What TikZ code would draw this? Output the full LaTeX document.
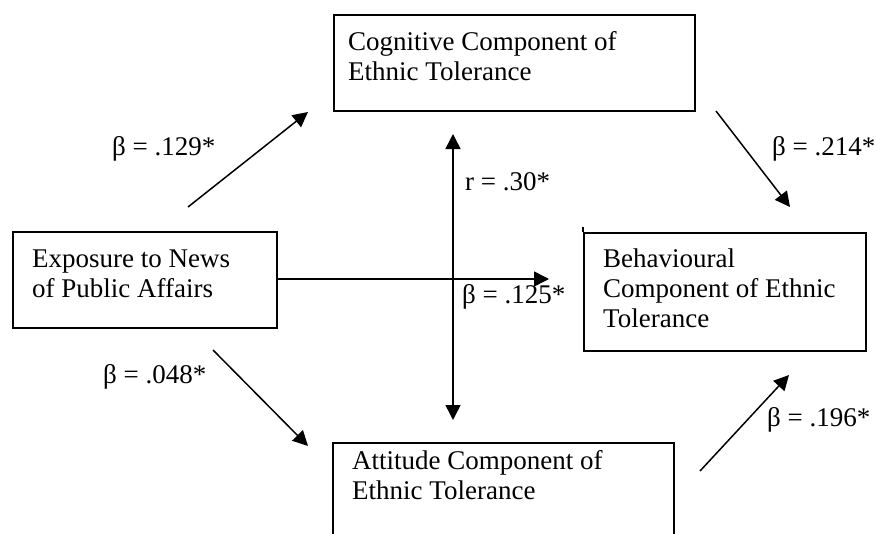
\documentclass[tikz,border=0pt]{standalone}
\usepackage{fontspec}
\setmainfont{Liberation Serif}
\usetikzlibrary{arrows.meta}
\begin{document}
\begin{tikzpicture}[x=1pt,y=-1pt,
  box/.style={draw, line width=2pt, inner sep=0pt, anchor=north west},
  txt/.style={anchor=base west, inner sep=0pt, align=left, font=\fontsize{27}{30}\selectfont},
  lab/.style={anchor=base west, inner sep=0pt, font=\fontsize{27}{30}\selectfont},
  arr/.style={line width=1.5pt, -{Triangle[length=15pt,width=15pt]}},
  darr/.style={line width=1.5pt, {Triangle[length=15pt,width=15pt]}-{Triangle[length=15pt,width=15pt]}}]
\useasboundingbox (0,0) rectangle (877,533);
\fill[white] (0,0) rectangle (877,533);
% boxes
\node[box, minimum width=361pt, minimum height=96pt] (cog) at (333,14) {};
\node[box, minimum width=264pt, minimum height=96pt] (exp) at (12,231) {};
\node[box, minimum width=282pt, minimum height=118pt] (beh) at (583,232) {};
\node[box, minimum width=341pt, minimum height=112pt] (att) at (332,442) {};
\draw[line width=2pt] (beh.north west) -- ++(0,-5);
% box texts (anchored at the baseline of the last line)
\node[txt] (cogt) at (348,80) {Cognitive Component of\\Ethnic Tolerance};
\node[txt] (expt) at (32,297) {Exposure to News\\of Public Affairs};
\node[txt] (beht) at (603,327) {Behavioural\\Component of Ethnic\\Tolerance};
\node[txt] (attt) at (352,499) {Attitude Component of\\Ethnic Tolerance};
% labels
\node[lab] (l129) at (112,155) {β = .129*};
\node[lab] (l214) at (772,155) {β = .214*};
\node[lab] (l30) at (465,190) {r = .30*};
\node[lab] (l125) at (462,303) {β = .125*};
\node[lab] (l048) at (103,383) {β = .048*};
\node[lab] (l196) at (767,426) {β = .196*};
% arrow end points
\coordinate (a1s) at (188,207);
\coordinate (a1e) at (308,112);
\coordinate (a2s) at (716,111);
\coordinate (a2e) at (790,207);
\coordinate (a3s) at (453,134);
\coordinate (a3e) at (453,420);
\coordinate (a4e) at (549,279);
\coordinate (a5s) at (213,350);
\coordinate (a5e) at (308,446);
\coordinate (a6s) at (700,471);
\coordinate (a6e) at (789,375);
% arrows
\draw[arr] (a1s) -- (a1e);
\draw[arr] (a2s) -- (a2e);
\draw[darr] (a3s) -- (a3e);
\draw[arr] (exp.east |- a4e) -- (a4e);
\draw[arr] (a5s) -- (a5e);
\draw[arr] (a6s) -- (a6e);
\end{tikzpicture}
\end{document}
